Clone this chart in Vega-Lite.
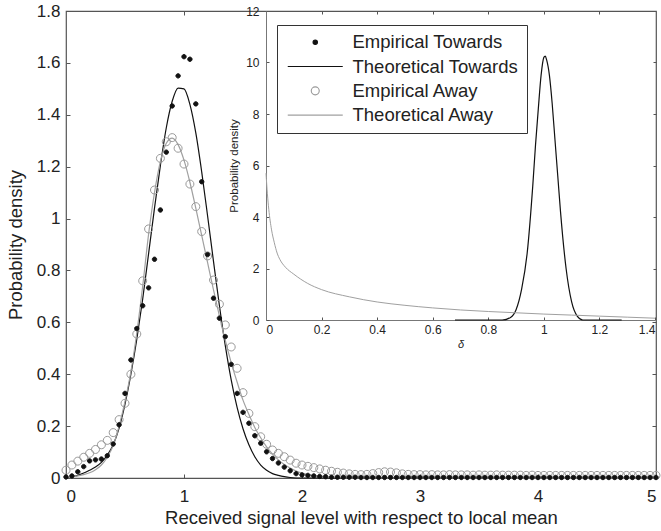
{
"$schema": "https://vega.github.io/schema/vega-lite/v6.json",
"width": 590,
"height": 467,
"autosize": {"type": "none"},
"padding": {"left": 66, "top": 11, "right": 5, "bottom": 53},
"background": "white",
"config": {
  "font": "Liberation Sans",
  "view": {"stroke": "#555", "strokeWidth": 1.2},
  "axis": {"grid": false, "labelColor": "#222", "titleColor": "#222", "tickColor": "#555", "domainColor": "#666", "titleFontWeight": "normal", "labelFont": "Liberation Sans", "titleFont": "Liberation Sans"},
  "legend": {"strokeColor": "#333", "fillColor": "white", "padding": 8, "labelFontSize": 18.5, "labelColor": "#222", "labelFont": "Liberation Sans", "symbolStrokeWidth": 1.1, "rowPadding": 5.3, "labelOffset": 28, "symbolOffset": 21, "symbolSize": 100, "labelLimit": 400}
},
"datasets": {
  "main": [
    {"series":"Theoretical Towards","x":0,"y":0},{"series":"Theoretical Towards","x":0.05,"y":0.004},{"series":"Theoretical Towards","x":0.1,"y":0.01},{"series":"Theoretical Towards","x":0.15,"y":0.019},{"series":"Theoretical Towards","x":0.2,"y":0.03},{"series":"Theoretical Towards","x":0.25,"y":0.042},{"series":"Theoretical Towards","x":0.3,"y":0.06},{"series":"Theoretical Towards","x":0.35,"y":0.088},{"series":"Theoretical Towards","x":0.4,"y":0.128},{"series":"Theoretical Towards","x":0.45,"y":0.192},{"series":"Theoretical Towards","x":0.5,"y":0.285},{"series":"Theoretical Towards","x":0.55,"y":0.4},{"series":"Theoretical Towards","x":0.6,"y":0.535},{"series":"Theoretical Towards","x":0.65,"y":0.69},{"series":"Theoretical Towards","x":0.7,"y":0.865},{"series":"Theoretical Towards","x":0.75,"y":1.04},{"series":"Theoretical Towards","x":0.8,"y":1.205},{"series":"Theoretical Towards","x":0.85,"y":1.35},{"series":"Theoretical Towards","x":0.9,"y":1.452},{"series":"Theoretical Towards","x":0.95,"y":1.503},{"series":"Theoretical Towards","x":1.0,"y":1.5},{"series":"Theoretical Towards","x":1.05,"y":1.44},{"series":"Theoretical Towards","x":1.1,"y":1.33},{"series":"Theoretical Towards","x":1.15,"y":1.18},{"series":"Theoretical Towards","x":1.2,"y":1.01},{"series":"Theoretical Towards","x":1.25,"y":0.835},{"series":"Theoretical Towards","x":1.3,"y":0.665},{"series":"Theoretical Towards","x":1.35,"y":0.51},{"series":"Theoretical Towards","x":1.4,"y":0.378},{"series":"Theoretical Towards","x":1.45,"y":0.272},{"series":"Theoretical Towards","x":1.5,"y":0.19},{"series":"Theoretical Towards","x":1.55,"y":0.128},{"series":"Theoretical Towards","x":1.6,"y":0.082},{"series":"Theoretical Towards","x":1.65,"y":0.05},{"series":"Theoretical Towards","x":1.7,"y":0.03},{"series":"Theoretical Towards","x":1.75,"y":0.017},{"series":"Theoretical Towards","x":1.8,"y":0.01},{"series":"Theoretical Towards","x":1.85,"y":0.005},{"series":"Theoretical Towards","x":1.9,"y":0.002},{"series":"Theoretical Towards","x":2.0,"y":0},{"series":"Theoretical Towards","x":5.0,"y":0},
    {"series":"Theoretical Away","x":0,"y":0},{"series":"Theoretical Away","x":0.05,"y":0.004},{"series":"Theoretical Away","x":0.1,"y":0.008},{"series":"Theoretical Away","x":0.15,"y":0.013},{"series":"Theoretical Away","x":0.2,"y":0.02},{"series":"Theoretical Away","x":0.25,"y":0.032},{"series":"Theoretical Away","x":0.3,"y":0.05},{"series":"Theoretical Away","x":0.35,"y":0.08},{"series":"Theoretical Away","x":0.4,"y":0.125},{"series":"Theoretical Away","x":0.45,"y":0.2},{"series":"Theoretical Away","x":0.5,"y":0.295},{"series":"Theoretical Away","x":0.55,"y":0.41},{"series":"Theoretical Away","x":0.6,"y":0.56},{"series":"Theoretical Away","x":0.65,"y":0.74},{"series":"Theoretical Away","x":0.7,"y":0.94},{"series":"Theoretical Away","x":0.75,"y":1.1},{"series":"Theoretical Away","x":0.8,"y":1.22},{"series":"Theoretical Away","x":0.85,"y":1.29},{"series":"Theoretical Away","x":0.9,"y":1.31},{"series":"Theoretical Away","x":0.95,"y":1.285},{"series":"Theoretical Away","x":1.0,"y":1.225},{"series":"Theoretical Away","x":1.05,"y":1.14},{"series":"Theoretical Away","x":1.1,"y":1.04},{"series":"Theoretical Away","x":1.15,"y":0.935},{"series":"Theoretical Away","x":1.2,"y":0.83},{"series":"Theoretical Away","x":1.25,"y":0.725},{"series":"Theoretical Away","x":1.3,"y":0.625},{"series":"Theoretical Away","x":1.35,"y":0.53},{"series":"Theoretical Away","x":1.4,"y":0.445},{"series":"Theoretical Away","x":1.45,"y":0.37},{"series":"Theoretical Away","x":1.5,"y":0.3},{"series":"Theoretical Away","x":1.55,"y":0.245},{"series":"Theoretical Away","x":1.6,"y":0.195},{"series":"Theoretical Away","x":1.65,"y":0.155},{"series":"Theoretical Away","x":1.7,"y":0.12},{"series":"Theoretical Away","x":1.75,"y":0.092},{"series":"Theoretical Away","x":1.8,"y":0.07},{"series":"Theoretical Away","x":1.85,"y":0.052},{"series":"Theoretical Away","x":1.9,"y":0.038},{"series":"Theoretical Away","x":1.95,"y":0.027},{"series":"Theoretical Away","x":2.0,"y":0.019},{"series":"Theoretical Away","x":2.1,"y":0.009},{"series":"Theoretical Away","x":2.2,"y":0.004},{"series":"Theoretical Away","x":2.3,"y":0.002},{"series":"Theoretical Away","x":2.5,"y":0},{"series":"Theoretical Away","x":5.0,"y":0},
    {"series":"Empirical Away","x":0,"y":0.03},{"series":"Empirical Away","x":0.05,"y":0.05},{"series":"Empirical Away","x":0.1,"y":0.065},{"series":"Empirical Away","x":0.15,"y":0.08},{"series":"Empirical Away","x":0.2,"y":0.095},{"series":"Empirical Away","x":0.25,"y":0.11},{"series":"Empirical Away","x":0.3,"y":0.128},{"series":"Empirical Away","x":0.35,"y":0.145},{"series":"Empirical Away","x":0.4,"y":0.175},{"series":"Empirical Away","x":0.45,"y":0.225},{"series":"Empirical Away","x":0.5,"y":0.288},{"series":"Empirical Away","x":0.55,"y":0.4},{"series":"Empirical Away","x":0.6,"y":0.555},{"series":"Empirical Away","x":0.65,"y":0.76},{"series":"Empirical Away","x":0.7,"y":0.96},{"series":"Empirical Away","x":0.75,"y":1.11},{"series":"Empirical Away","x":0.8,"y":1.232},{"series":"Empirical Away","x":0.85,"y":1.296},{"series":"Empirical Away","x":0.9,"y":1.312},{"series":"Empirical Away","x":0.95,"y":1.271},{"series":"Empirical Away","x":1.0,"y":1.21},{"series":"Empirical Away","x":1.05,"y":1.133},{"series":"Empirical Away","x":1.1,"y":1.046},{"series":"Empirical Away","x":1.15,"y":0.95},{"series":"Empirical Away","x":1.2,"y":0.856},{"series":"Empirical Away","x":1.25,"y":0.763},{"series":"Empirical Away","x":1.3,"y":0.67},{"series":"Empirical Away","x":1.35,"y":0.59},{"series":"Empirical Away","x":1.4,"y":0.505},{"series":"Empirical Away","x":1.45,"y":0.423},{"series":"Empirical Away","x":1.5,"y":0.329},{"series":"Empirical Away","x":1.55,"y":0.249},{"series":"Empirical Away","x":1.6,"y":0.198},{"series":"Empirical Away","x":1.65,"y":0.159},{"series":"Empirical Away","x":1.7,"y":0.13},{"series":"Empirical Away","x":1.75,"y":0.108},{"series":"Empirical Away","x":1.8,"y":0.095},{"series":"Empirical Away","x":1.85,"y":0.082},{"series":"Empirical Away","x":1.9,"y":0.069},{"series":"Empirical Away","x":1.95,"y":0.057},{"series":"Empirical Away","x":2.0,"y":0.05},{"series":"Empirical Away","x":2.05,"y":0.045},{"series":"Empirical Away","x":2.1,"y":0.04},{"series":"Empirical Away","x":2.15,"y":0.035},{"series":"Empirical Away","x":2.2,"y":0.03},{"series":"Empirical Away","x":2.25,"y":0.026},{"series":"Empirical Away","x":2.3,"y":0.022},{"series":"Empirical Away","x":2.35,"y":0.019},{"series":"Empirical Away","x":2.4,"y":0.016},{"series":"Empirical Away","x":2.45,"y":0.014},{"series":"Empirical Away","x":2.5,"y":0.013},{"series":"Empirical Away","x":2.55,"y":0.014},{"series":"Empirical Away","x":2.6,"y":0.017},{"series":"Empirical Away","x":2.65,"y":0.021},{"series":"Empirical Away","x":2.7,"y":0.024},{"series":"Empirical Away","x":2.75,"y":0.023},{"series":"Empirical Away","x":2.8,"y":0.02},{"series":"Empirical Away","x":2.85,"y":0.016},{"series":"Empirical Away","x":2.9,"y":0.014},{"series":"Empirical Away","x":2.95,"y":0.013},{"series":"Empirical Away","x":3.0,"y":0.013},{"series":"Empirical Away","x":3.05,"y":0.012},{"series":"Empirical Away","x":3.1,"y":0.013},{"series":"Empirical Away","x":3.15,"y":0.012},{"series":"Empirical Away","x":3.2,"y":0.012},{"series":"Empirical Away","x":3.25,"y":0.013},{"series":"Empirical Away","x":3.3,"y":0.012},{"series":"Empirical Away","x":3.35,"y":0.012},{"series":"Empirical Away","x":3.4,"y":0.012},{"series":"Empirical Away","x":3.45,"y":0.011},{"series":"Empirical Away","x":3.5,"y":0.012},{"series":"Empirical Away","x":3.55,"y":0.011},{"series":"Empirical Away","x":3.6,"y":0.011},{"series":"Empirical Away","x":3.65,"y":0.012},{"series":"Empirical Away","x":3.7,"y":0.011},{"series":"Empirical Away","x":3.75,"y":0.011},{"series":"Empirical Away","x":3.8,"y":0.011},{"series":"Empirical Away","x":3.85,"y":0.011},{"series":"Empirical Away","x":3.9,"y":0.01},{"series":"Empirical Away","x":3.95,"y":0.011},{"series":"Empirical Away","x":4.0,"y":0.01},{"series":"Empirical Away","x":4.05,"y":0.01},{"series":"Empirical Away","x":4.1,"y":0.01},{"series":"Empirical Away","x":4.15,"y":0.01},{"series":"Empirical Away","x":4.2,"y":0.01},{"series":"Empirical Away","x":4.25,"y":0.01},{"series":"Empirical Away","x":4.3,"y":0.01},{"series":"Empirical Away","x":4.35,"y":0.01},{"series":"Empirical Away","x":4.4,"y":0.01},{"series":"Empirical Away","x":4.45,"y":0.01},{"series":"Empirical Away","x":4.5,"y":0.01},{"series":"Empirical Away","x":4.55,"y":0.01},{"series":"Empirical Away","x":4.6,"y":0.01},{"series":"Empirical Away","x":4.65,"y":0.01},{"series":"Empirical Away","x":4.7,"y":0.01},{"series":"Empirical Away","x":4.75,"y":0.01},{"series":"Empirical Away","x":4.8,"y":0.01},{"series":"Empirical Away","x":4.85,"y":0.01},{"series":"Empirical Away","x":4.9,"y":0.01},{"series":"Empirical Away","x":4.95,"y":0.01},{"series":"Empirical Away","x":5.0,"y":0.01},
    {"series":"Empirical Towards","x":0,"y":0.004},{"series":"Empirical Towards","x":0.05,"y":0.008},{"series":"Empirical Towards","x":0.1,"y":0.024},{"series":"Empirical Towards","x":0.15,"y":0.044},{"series":"Empirical Towards","x":0.2,"y":0.066},{"series":"Empirical Towards","x":0.25,"y":0.07},{"series":"Empirical Towards","x":0.3,"y":0.073},{"series":"Empirical Towards","x":0.35,"y":0.086},{"series":"Empirical Towards","x":0.4,"y":0.131},{"series":"Empirical Towards","x":0.45,"y":0.205},{"series":"Empirical Towards","x":0.5,"y":0.326},{"series":"Empirical Towards","x":0.55,"y":0.455},{"series":"Empirical Towards","x":0.6,"y":0.576},{"series":"Empirical Towards","x":0.65,"y":0.664},{"series":"Empirical Towards","x":0.7,"y":0.733},{"series":"Empirical Towards","x":0.75,"y":0.843},{"series":"Empirical Towards","x":0.8,"y":1.033},{"series":"Empirical Towards","x":0.85,"y":1.256},{"series":"Empirical Towards","x":0.9,"y":1.434},{"series":"Empirical Towards","x":0.95,"y":1.55},{"series":"Empirical Towards","x":1.0,"y":1.624},{"series":"Empirical Towards","x":1.05,"y":1.614},{"series":"Empirical Towards","x":1.1,"y":1.442},{"series":"Empirical Towards","x":1.15,"y":1.142},{"series":"Empirical Towards","x":1.2,"y":0.861},{"series":"Empirical Towards","x":1.25,"y":0.693},{"series":"Empirical Towards","x":1.3,"y":0.616},{"series":"Empirical Towards","x":1.35,"y":0.545},{"series":"Empirical Towards","x":1.4,"y":0.438},{"series":"Empirical Towards","x":1.45,"y":0.326},{"series":"Empirical Towards","x":1.5,"y":0.253},{"series":"Empirical Towards","x":1.55,"y":0.211},{"series":"Empirical Towards","x":1.6,"y":0.163},{"series":"Empirical Towards","x":1.65,"y":0.134},{"series":"Empirical Towards","x":1.7,"y":0.101},{"series":"Empirical Towards","x":1.75,"y":0.075},{"series":"Empirical Towards","x":1.8,"y":0.058},{"series":"Empirical Towards","x":1.85,"y":0.042},{"series":"Empirical Towards","x":1.9,"y":0.028},{"series":"Empirical Towards","x":1.95,"y":0.017},{"series":"Empirical Towards","x":2.0,"y":0.012},{"series":"Empirical Towards","x":2.05,"y":0.01},{"series":"Empirical Towards","x":2.1,"y":0.008},{"series":"Empirical Towards","x":2.15,"y":0.006},{"series":"Empirical Towards","x":2.2,"y":0.005},{"series":"Empirical Towards","x":2.25,"y":0.003},{"series":"Empirical Towards","x":2.3,"y":0.003},{"series":"Empirical Towards","x":2.35,"y":0.003},{"series":"Empirical Towards","x":2.4,"y":0.003},{"series":"Empirical Towards","x":2.45,"y":0.003},{"series":"Empirical Towards","x":2.5,"y":0.002},{"series":"Empirical Towards","x":2.55,"y":0.002},{"series":"Empirical Towards","x":2.6,"y":0.002},{"series":"Empirical Towards","x":2.65,"y":0.002},{"series":"Empirical Towards","x":2.7,"y":0.002},{"series":"Empirical Towards","x":2.75,"y":0.002},{"series":"Empirical Towards","x":2.8,"y":0.002},{"series":"Empirical Towards","x":2.85,"y":0.002},{"series":"Empirical Towards","x":2.9,"y":0.002},{"series":"Empirical Towards","x":2.95,"y":0.002},{"series":"Empirical Towards","x":3.0,"y":0.002},{"series":"Empirical Towards","x":3.05,"y":0.002},{"series":"Empirical Towards","x":3.1,"y":0.002},{"series":"Empirical Towards","x":3.15,"y":0.002},{"series":"Empirical Towards","x":3.2,"y":0.002},{"series":"Empirical Towards","x":3.25,"y":0.002},{"series":"Empirical Towards","x":3.3,"y":0.002},{"series":"Empirical Towards","x":3.35,"y":0.002},{"series":"Empirical Towards","x":3.4,"y":0.002},{"series":"Empirical Towards","x":3.45,"y":0.002},{"series":"Empirical Towards","x":3.5,"y":0.002},{"series":"Empirical Towards","x":3.55,"y":0.002},{"series":"Empirical Towards","x":3.6,"y":0.002},{"series":"Empirical Towards","x":3.65,"y":0.002},{"series":"Empirical Towards","x":3.7,"y":0.002},{"series":"Empirical Towards","x":3.75,"y":0.002},{"series":"Empirical Towards","x":3.8,"y":0.002},{"series":"Empirical Towards","x":3.85,"y":0.002},{"series":"Empirical Towards","x":3.9,"y":0.002},{"series":"Empirical Towards","x":3.95,"y":0.002},{"series":"Empirical Towards","x":4.0,"y":0.002},{"series":"Empirical Towards","x":4.05,"y":0.002},{"series":"Empirical Towards","x":4.1,"y":0.002},{"series":"Empirical Towards","x":4.15,"y":0.002},{"series":"Empirical Towards","x":4.2,"y":0.002},{"series":"Empirical Towards","x":4.25,"y":0.002},{"series":"Empirical Towards","x":4.3,"y":0.002},{"series":"Empirical Towards","x":4.35,"y":0.002},{"series":"Empirical Towards","x":4.4,"y":0.002},{"series":"Empirical Towards","x":4.45,"y":0.002},{"series":"Empirical Towards","x":4.5,"y":0.002},{"series":"Empirical Towards","x":4.55,"y":0.002},{"series":"Empirical Towards","x":4.6,"y":0.002},{"series":"Empirical Towards","x":4.65,"y":0.002},{"series":"Empirical Towards","x":4.7,"y":0.002},{"series":"Empirical Towards","x":4.75,"y":0.002},{"series":"Empirical Towards","x":4.8,"y":0.002},{"series":"Empirical Towards","x":4.85,"y":0.002},{"series":"Empirical Towards","x":4.9,"y":0.002},{"series":"Empirical Towards","x":4.95,"y":0.002},{"series":"Empirical Towards","x":5.0,"y":0.002}
  ],
  "inset": [
    {"series":"Towards","d":0.68,"p":0},{"series":"Towards","d":0.85,"p":0},{"series":"Towards","d":0.88,"p":0.1},{"series":"Towards","d":0.9,"p":0.4},{"series":"Towards","d":0.92,"p":1.2},{"series":"Towards","d":0.94,"p":2.6},{"series":"Towards","d":0.96,"p":5.2},{"series":"Towards","d":0.97,"p":6.8},{"series":"Towards","d":0.98,"p":8.2},{"series":"Towards","d":0.99,"p":9.5},{"series":"Towards","d":1.0,"p":10.2},{"series":"Towards","d":1.005,"p":10.25},{"series":"Towards","d":1.01,"p":10.1},{"series":"Towards","d":1.02,"p":9.5},{"series":"Towards","d":1.03,"p":8.4},{"series":"Towards","d":1.04,"p":7.0},{"series":"Towards","d":1.05,"p":5.6},{"series":"Towards","d":1.06,"p":4.2},{"series":"Towards","d":1.08,"p":2.0},{"series":"Towards","d":1.1,"p":0.7},{"series":"Towards","d":1.12,"p":0.15},{"series":"Towards","d":1.14,"p":0},{"series":"Towards","d":1.28,"p":0},
    {"series":"Away","d":0,"p":5.7},{"series":"Away","d":0.005,"p":4.9},{"series":"Away","d":0.01,"p":4.3},{"series":"Away","d":0.02,"p":3.5},{"series":"Away","d":0.03,"p":3.0},{"series":"Away","d":0.04,"p":2.6},{"series":"Away","d":0.05,"p":2.35},{"series":"Away","d":0.07,"p":2.05},{"series":"Away","d":0.1,"p":1.78},{"series":"Away","d":0.15,"p":1.42},{"series":"Away","d":0.2,"p":1.18},{"series":"Away","d":0.3,"p":0.9},{"series":"Away","d":0.4,"p":0.7},{"series":"Away","d":0.5,"p":0.57},{"series":"Away","d":0.6,"p":0.47},{"series":"Away","d":0.7,"p":0.39},{"series":"Away","d":0.8,"p":0.33},{"series":"Away","d":0.9,"p":0.28},{"series":"Away","d":1.0,"p":0.23},{"series":"Away","d":1.1,"p":0.19},{"series":"Away","d":1.2,"p":0.15},{"series":"Away","d":1.3,"p":0.11},{"series":"Away","d":1.4,"p":0.07}
  ]
},
"layer": [
  {
    "data": {"name": "main"},
    "layer": [
      {
        "transform": [{"filter": "indexof(datum.series, 'Theoretical') == 0"}],
        "mark": {"type": "line", "strokeWidth": 1.2, "interpolate": "monotone"},
        "encoding": {
          "x": {"field": "x", "type": "quantitative", "scale": {"domain": [0, 5], "nice": false},
                "axis": {"orient": "bottom", "values": [0,1,2,3,4,5], "format": "~g", "domain": false, "tickSize": -4, "labelPadding": 14, "labelFontSize": 17, "title": "Received signal level with respect to local mean", "titleFontSize": 18.5, "titlePadding": 4}},
          "y": {"field": "y", "type": "quantitative", "scale": {"domain": [0, 1.8], "nice": false},
                "axis": {"orient": "left", "values": [0,0.2,0.4,0.6,0.8,1,1.2,1.4,1.6,1.8], "format": "~g", "domain": false, "tickSize": -4, "labelPadding": 10, "labelFontSize": 17, "title": "Probability density", "titleFontSize": 18.5, "titlePadding": 11}},
          "stroke": {"field": "series", "type": "nominal",
                     "scale": {"domain": ["Empirical Towards", "Theoretical Towards", "Empirical Away", "Theoretical Away"], "range": ["#111111", "#111111", "#999999", "#a0a0a0"]},
                     "legend": {"orient": "none", "legendX": 211, "legendY": 14, "title": null}},
          "order": {"field": "x", "type": "quantitative"}
        }
      },
      {
        "transform": [{"filter": "indexof(datum.series, 'Empirical') == 0"}],
        "mark": {"type": "point", "size": 100, "strokeWidth": 1, "opacity": 1},
        "encoding": {
          "x": {"field": "x", "type": "quantitative", "axis": {"orient": "top", "values": [1], "labels": false, "domain": false, "tickSize": -4, "title": null}},
          "y": {"field": "y", "type": "quantitative", "axis": {"orient": "right", "values": [0.2, 0.4, 0.6], "labels": false, "domain": false, "tickSize": -4, "title": null}},
          "stroke": {"field": "series", "type": "nominal", "legend": {"orient": "none", "legendX": 211, "legendY": 14, "title": null}},
          "fill": {"field": "series", "type": "nominal",
                   "scale": {"domain": ["Empirical Towards", "Theoretical Towards", "Empirical Away", "Theoretical Away"], "range": ["#111111", "transparent", "transparent", "transparent"]},
                   "legend": {"orient": "none", "legendX": 211, "legendY": 14, "title": null}},
          "shape": {"field": "series", "type": "nominal",
                    "scale": {"domain": ["Empirical Towards", "Theoretical Towards", "Empirical Away", "Theoretical Away"], "range": ["M-0.44,0A0.44,0.44,0,1,0,0.44,0A0.44,0.44,0,1,0,-0.44,0Z", "M-5.5,0H5.5", "M-0.8,0A0.8,0.8,0,1,0,0.8,0A0.8,0.8,0,1,0,-0.8,0Z", "M-5.5,0H5.5"]},
                    "legend": {"orient": "none", "legendX": 211, "legendY": 14, "title": null}}
        }
      }
    ],
    "resolve": {"axis": {"x": "independent", "y": "independent"}}
  },
  {
    "data": {"name": "inset"},
    "layer": [
      {
        "transform": [{"filter": "datum.series == 'Towards'"}],
        "mark": {"type": "line", "color": "#111111", "strokeWidth": 1.2, "interpolate": "monotone"},
        "encoding": {
          "x": {"field": "d", "type": "quantitative", "scale": {"domain": [0, 1.4], "range": [200, 589], "nice": false},
                "axis": {"orient": "bottom", "offset": -158, "values": [0,0.2,0.4,0.6,0.8,1,1.2,1.4], "format": "~g", "domainColor": "#777", "tickSize": -3, "labelPadding": 7, "labelFontSize": 12, "title": "δ", "titleFontStyle": "italic", "titleFontSize": 11, "titlePadding": 3}},
          "y": {"field": "p", "type": "quantitative", "scale": {"domain": [0, 12], "range": [309, 0], "nice": false},
                "axis": {"orient": "left", "offset": -200, "values": [0,2,4,6,8,10,12], "format": "~g", "domainColor": "#777", "tickSize": -3, "labelPadding": 10, "labelFontSize": 12, "title": "Probability density", "titleFontSize": 11.5, "titlePadding": 6}},
          "order": {"field": "d", "type": "quantitative"}
        }
      },
      {
        "transform": [{"filter": "datum.series == 'Away'"}],
        "mark": {"type": "line", "color": "#a0a0a0", "strokeWidth": 1, "interpolate": "monotone"},
        "encoding": {
          "x": {"field": "d", "type": "quantitative", "axis": {"orient": "top", "values": [0.2,0.4,0.6,0.8,1,1.2], "labels": false, "domain": false, "tickSize": -3, "title": null}},
          "y": {"field": "p", "type": "quantitative", "axis": {"orient": "right", "values": [2,4,6,8,10], "labels": false, "domain": false, "tickSize": -3, "title": null}},
          "order": {"field": "d", "type": "quantitative"}
        }
      }
    ],
    "resolve": {"axis": {"x": "independent", "y": "independent"}}
  }
],
"resolve": {"scale": {"x": "independent", "y": "independent"}}
}
